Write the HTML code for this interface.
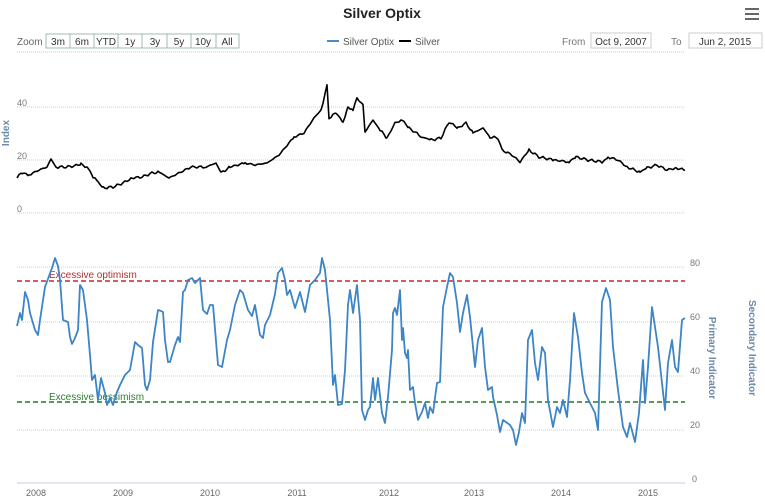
<!DOCTYPE html>
<html><head><meta charset="utf-8"><style>
body{margin:0;background:#fff;font-family:"Liberation Sans",sans-serif;}
svg{display:block}
</style></head><body>
<svg id="s" width="765" height="502" xmlns="http://www.w3.org/2000/svg" font-family="Liberation Sans, sans-serif">
<rect width="765" height="502" fill="#fff"/>
<text x="382" y="18" text-anchor="middle" font-size="14" font-weight="bold" fill="#222">Silver Optix</text>
<g fill="#666"><rect x="745" y="8" width="14" height="2"/><rect x="745" y="13" width="14" height="2"/><rect x="745" y="18" width="14" height="2"/></g>
<text x="17" y="45" font-size="10" fill="#666">Zoom</text>
<g font-size="10" fill="#333" text-anchor="middle">
<rect x="46" y="34" width="193" height="14" fill="#fff" stroke="#8aa" stroke-width="0.8"/>
<line x1="70" y1="34" x2="70" y2="48" stroke="#8aa" stroke-width="0.8"/><line x1="94" y1="34" x2="94" y2="48" stroke="#8aa" stroke-width="0.8"/><line x1="118" y1="34" x2="118" y2="48" stroke="#8aa" stroke-width="0.8"/><line x1="142" y1="34" x2="142" y2="48" stroke="#8aa" stroke-width="0.8"/><line x1="167" y1="34" x2="167" y2="48" stroke="#8aa" stroke-width="0.8"/><line x1="191" y1="34" x2="191" y2="48" stroke="#8aa" stroke-width="0.8"/><line x1="216" y1="34" x2="216" y2="48" stroke="#8aa" stroke-width="0.8"/>
<text x="58" y="45">3m</text><text x="82" y="45">6m</text><text x="106" y="45">YTD</text><text x="130" y="45">1y</text><text x="155" y="45">3y</text><text x="179" y="45">5y</text><text x="203" y="45">10y</text><text x="227" y="45">All</text>
</g>
<line x1="327" y1="41" x2="339" y2="41" stroke="#4a8bc9" stroke-width="2"/>
<text x="343" y="45" font-size="10" fill="#555">Silver Optix</text>
<line x1="399" y1="41" x2="411" y2="41" stroke="#000" stroke-width="2"/>
<text x="415" y="45" font-size="10" fill="#555">Silver</text>
<text x="562" y="45" font-size="10" fill="#777">From</text>
<rect x="591" y="33" width="60" height="15" fill="#fff" stroke="#ccc"/>
<text x="621" y="45" font-size="10" fill="#333" text-anchor="middle">Oct 9, 2007</text>
<text x="671" y="45" font-size="10" fill="#777">To</text>
<rect x="689" y="33" width="73" height="15" fill="#fff" stroke="#ccc"/>
<text x="725" y="45" font-size="10" fill="#333" text-anchor="middle">Jun 2, 2015</text>
<g stroke="#ccc" stroke-dasharray="1,1" stroke-width="1">
<line x1="17" y1="52" x2="685" y2="52"/><line x1="17" y1="107" x2="685" y2="107"/><line x1="17" y1="160" x2="685" y2="160"/><line x1="17" y1="213" x2="685" y2="213"/>
<line x1="17" y1="267" x2="685" y2="267"/><line x1="17" y1="322" x2="685" y2="322"/><line x1="17" y1="376" x2="685" y2="376"/><line x1="17" y1="430" x2="685" y2="430"/>
</g>
<line x1="17" y1="483" x2="685" y2="483" stroke="#dde" stroke-width="1.5"/>
<g font-size="9" fill="#777"><text x="17" y="106">40</text><text x="17" y="159">20</text><text x="17" y="212">0</text></g>
<text transform="translate(9,133) rotate(-90)" font-size="10" font-weight="bold" fill="#6a8aa8" text-anchor="middle">Index</text>
<g font-size="9" fill="#777"><text x="690" y="266">80</text><text x="690" y="320">60</text><text x="690" y="374">40</text><text x="690" y="428">20</text><text x="692" y="482">0</text></g>
<text transform="translate(709,358) rotate(90)" font-size="10" font-weight="bold" fill="#6a8aa8" text-anchor="middle">Primary Indicator</text>
<text transform="translate(749,348) rotate(90)" font-size="10" font-weight="bold" fill="#6a8aa8" text-anchor="middle">Secondary Indicator</text>
<g font-size="9" fill="#666" text-anchor="middle"><text x="36" y="496">2008</text><text x="123" y="496">2009</text><text x="210" y="496">2010</text><text x="297" y="496">2011</text><text x="389" y="496">2012</text><text x="474" y="496">2013</text><text x="561" y="496">2014</text><text x="648" y="496">2015</text></g>
<line x1="17" y1="281" x2="685" y2="281" stroke="#c62828" stroke-width="1.5" stroke-dasharray="5,3"/>
<line x1="17" y1="402" x2="685" y2="402" stroke="#1b7a1b" stroke-width="1.5" stroke-dasharray="5,3"/>
<text x="49" y="278" font-size="10" fill="#b03030">Excessive optimism</text>
<text x="49" y="400" font-size="10" fill="#2e7d32">Excessive pessimism</text>
<polyline id="ag" fill="none" stroke="#000" stroke-width="1.6" stroke-linejoin="round"/>
<polyline id="op" fill="none" stroke="#3d85c6" stroke-width="1.8" stroke-linejoin="round"/>
</svg>
<script>
var ag=[17,177,22,173,29,175,39,170,47,167,51,159,56,167,66,167,74,166,81,164,88,168,93,177,98,182,103,188,113,187,123,183,132,178,142,177,152,173,159,172,169,178,181,172,191,167,206,167,216,163,221,173,230,167,245,163,255,165,267,163,279,155,289,143,294,137,304,133,314,118,321,110,327,86,329,118,336,113,343,122,348,107,353,110,357,98,363,105,365,132,373,120,380,130,387,138,395,123,402,120,409,128,422,137,431,140,441,138,449,122,458,128,466,123,473,133,483,128,490,137,498,138,502,150,512,155,520,162,529,150,539,157,554,160,569,162,576,157,588,160,603,162,608,157,618,160,627,167,640,172,647,168,657,165,667,170,676,168,685,170];
var p=[];for(var i=0;i<ag.length-2;i+=2){var x0=ag[i],y0=ag[i+1],x1=ag[i+2],y1=ag[i+3];for(var x=x0;x<x1;x+=2){var t=(x-x0)/(x1-x0);var n=Math.sin(x*2.3)*0.7+Math.sin(x*0.9)*0.6;p.push(x.toFixed(1)+','+(y0+(y1-y0)*t+n).toFixed(1));}}
p.push('685,170');document.getElementById('ag').setAttribute('points',p.join(' '));
var op=[17,326,20,313,22,320,25,292,28,300,30,313,35,330,38,335,40,320,45,287,52,268,55,258,58,266,60,280,63,320,68,322,70,337,72,344,75,338,78,330,80,285,83,290,87,320,90,355,92,380,95,375,98,400,101,378,105,393,107,405,110,398,113,405,117,392,120,385,125,375,130,370,135,342,138,345,142,348,145,385,147,390,150,380,153,342,158,310,161,311,163,312,165,340,168,362,170,362,175,345,178,337,180,342,183,292,185,290,188,280,192,278,195,283,200,278,203,310,207,314,210,305,213,305,218,365,222,367,227,340,230,330,235,305,240,290,243,293,248,310,252,316,255,305,260,335,263,338,265,325,270,315,275,294,278,273,282,268,285,280,287,295,290,290,295,308,300,292,305,312,310,285,315,280,320,273,322,258,325,270,330,320,333,385,335,375,338,405,342,404,345,370,348,305,350,290,353,313,357,285,360,320,362,410,365,420,368,410,370,407,373,378,375,400,378,378,382,413,385,423,388,397,392,350,393,313,395,308,397,315,400,290,402,340,403,328,405,353,407,358,408,350,410,390,413,387,415,403,418,420,422,412,425,403,428,418,430,407,433,413,437,383,440,382,443,307,447,287,450,273,453,277,457,303,460,332,463,313,467,295,470,317,475,367,478,340,482,328,485,367,488,390,492,387,493,397,497,415,500,432,503,420,510,425,513,430,516,445,519,432,522,413,525,423,528,340,532,330,535,363,538,380,542,347,545,353,548,400,553,427,557,407,560,413,563,400,567,417,570,380,574,313,578,337,582,373,585,393,590,403,595,413,598,430,602,302,606,288,610,300,613,347,618,390,623,427,627,437,630,423,635,442,639,413,643,360,645,403,648,367,652,307,655,327,658,347,662,383,665,410,668,363,672,340,675,367,678,372,682,320,685,318];
var q=[];for(var i=0;i<op.length;i+=2)q.push(op[i]+','+op[i+1]);document.getElementById('op').setAttribute('points',q.join(' '));
</script>
</body></html>
